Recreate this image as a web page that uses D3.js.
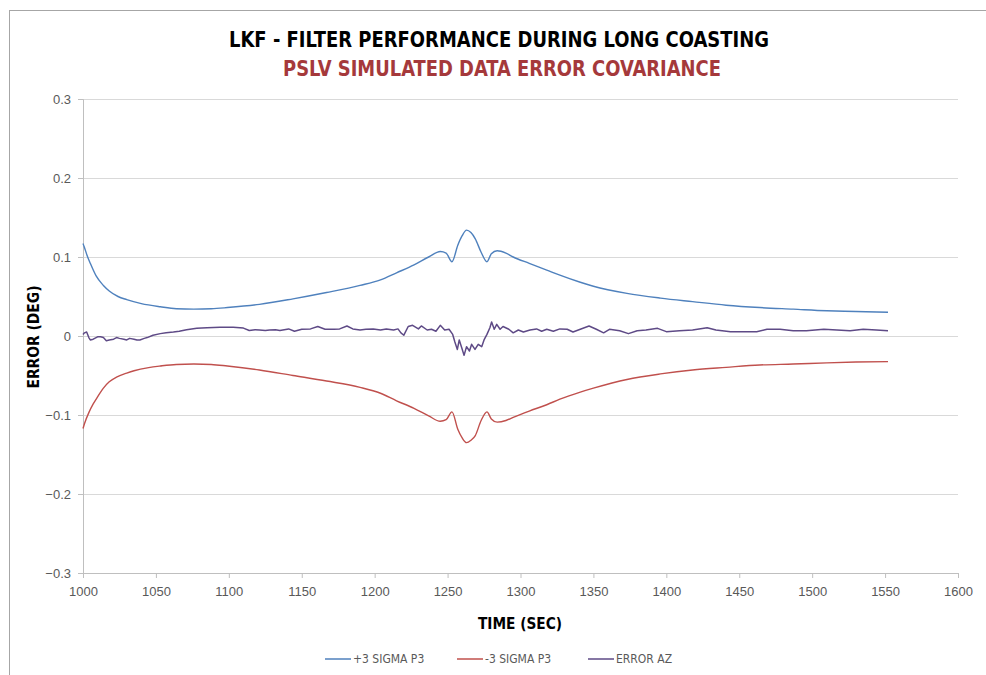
<!DOCTYPE html>
<meta charset="utf-8">
<style>
    body { margin: 0; background: #fff; }
    .grid line { stroke: #d9d9d9; stroke-width: 1px; }
    .tick-label { fill: #595959; font-size: 13px; }
    .series { fill: none; }
    .narrow { font-family: "Liberation Sans Narrow", "DejaVu Sans Condensed", "Liberation Sans", sans-serif; }
</style>
<svg width="986" height="675" font-family="'Liberation Sans', sans-serif"></svg>
<script src="https://d3js.org/d3.v7.min.js"></script>
<script>
    // chart values
    var titleText = "LKF - FILTER PERFORMANCE DURING LONG COASTING";
    var subtitleText = "PSLV SIMULATED DATA ERROR COVARIANCE";
    var xTicks = [1000, 1050, 1100, 1150, 1200, 1250, 1300, 1350, 1400, 1450, 1500, 1550, 1600];
    var yTicks = [-0.3, -0.2, -0.1, 0, 0.1, 0.2, 0.3];
    var seriesNames = ["+3 SIGMA P3", "-3 SIGMA P3", "ERROR AZ"];

    var plusTime = [1000, 1001, 1003, 1005, 1009, 1014, 1018, 1024, 1030, 1040, 1053, 1064, 1076, 1088, 1099,
        1121, 1144, 1167, 1190, 1204, 1215, 1227, 1237, 1245, 1249, 1253, 1257, 1260, 1263, 1266, 1269, 1273,
        1277, 1280, 1284, 1290, 1295, 1306, 1318, 1327, 1341, 1350, 1373, 1396, 1418, 1441, 1464, 1487, 1510, 1530, 1552];
    var plusSigma = [0.117, 0.112, 0.101, 0.092, 0.076, 0.064, 0.057, 0.050, 0.046, 0.041, 0.037, 0.0345, 0.034, 0.0345, 0.036,
        0.040, 0.047, 0.055, 0.064, 0.071, 0.080, 0.090, 0.100, 0.107, 0.105, 0.094, 0.115, 0.127, 0.134, 0.131, 0.123, 0.106,
        0.094, 0.104, 0.108, 0.105, 0.100, 0.092, 0.0835, 0.077, 0.068, 0.063, 0.054, 0.048, 0.0435, 0.039, 0.036, 0.034, 0.032, 0.031, 0.030];

    var minusTime = [1000, 1001, 1004, 1007, 1010, 1014, 1018, 1023, 1030, 1035, 1045, 1053, 1064, 1076, 1088, 1099,
        1121, 1144, 1167, 1190, 1204, 1215, 1227, 1237, 1245, 1249, 1253, 1257, 1260, 1263, 1266, 1269, 1273,
        1277, 1280, 1284, 1290, 1295, 1306, 1318, 1327, 1341, 1350, 1373, 1396, 1418, 1441, 1464, 1487, 1510, 1530, 1552];
    var minusSigma = [-0.117, -0.111, -0.097, -0.086, -0.077, -0.066, -0.058, -0.052, -0.047, -0.044, -0.040, -0.038, -0.036, -0.0355, -0.036, -0.038,
        -0.043, -0.050, -0.057, -0.065, -0.0725, -0.082, -0.0915, -0.101, -0.108, -0.106, -0.096, -0.118, -0.129, -0.135, -0.132, -0.126, -0.107,
        -0.096, -0.105, -0.109, -0.107, -0.103, -0.095, -0.087, -0.080, -0.071, -0.066, -0.055, -0.048, -0.043, -0.0397, -0.0367, -0.0355, -0.034, -0.033, -0.0325];

    var errTime = [1000, 1001, 1002.5, 1004, 1005, 1007, 1008, 1010, 1012, 1014, 1016, 1018, 1021, 1023, 1025, 1028, 1030,
        1032, 1035, 1037, 1039, 1042, 1044, 1048, 1053, 1057, 1062, 1066, 1071, 1078, 1085, 1094, 1103, 1110, 1114,
        1118, 1121, 1125, 1128, 1132, 1135, 1141, 1145, 1150, 1156, 1161, 1166, 1172, 1176, 1181, 1185, 1190, 1194,
        1199, 1204, 1208, 1213, 1216, 1218, 1220, 1223, 1226, 1230, 1232, 1236, 1239, 1242, 1245, 1248, 1251, 1253.5,
        1255, 1256.7, 1258, 1259.7, 1261.3, 1263, 1265, 1266.5, 1268.8, 1271, 1273.4, 1275, 1277, 1279, 1280.2, 1282,
        1283.7, 1286, 1288, 1292, 1295, 1298.5, 1302, 1306.5, 1311, 1314.5, 1318, 1322.5, 1327, 1332, 1336, 1341, 1347,
        1352, 1357, 1361, 1368, 1374, 1380, 1386, 1394, 1400, 1409, 1418, 1428, 1434, 1444, 1453, 1462, 1469, 1478,
        1487, 1496, 1508, 1517, 1526, 1535, 1544, 1552];
    var errAz = [0.002, 0.004, 0.005, -0.002, -0.005, -0.004, -0.003, -0.001, -0.001, -0.002, -0.006, -0.005, -0.004, -0.002, -0.003, -0.004, -0.005,
        -0.003, -0.004, -0.005, -0.005, -0.003, -0.002, 0.001, 0.003, 0.004, 0.005, 0.006, 0.008, 0.0097, 0.0105, 0.011, 0.011, 0.010, 0.007,
        0.008, 0.0076, 0.007, 0.0076, 0.008, 0.007, 0.009, 0.006, 0.0085, 0.009, 0.012, 0.0085, 0.0085, 0.009, 0.0127, 0.009, 0.0076, 0.0085,
        0.009, 0.0076, 0.009, 0.0076, 0.009, 0.004, 0.001, 0.012, 0.0135, 0.009, 0.0127, 0.0076, 0.0085, 0.006, 0.0135, 0.0076, 0.0085, 0.002,
        -0.0076, -0.017, -0.005, -0.0148, -0.0245, -0.0135, -0.019, -0.0105, -0.017, -0.0105, -0.0135, -0.005, 0.002, 0.0105, 0.0177, 0.0085,
        0.0148, 0.0085, 0.012, 0.0085, 0.004, 0.0076, 0.005, 0.0076, 0.009, 0.006, 0.0085, 0.006, 0.009, 0.0085, 0.005, 0.0085, 0.0127,
        0.0085, 0.004, 0.0085, 0.0067, 0.003, 0.0067, 0.0076, 0.0097, 0.0055, 0.0067, 0.0076, 0.0105, 0.0076, 0.0055, 0.0055, 0.0055, 0.0085, 0.0085,
        0.0067, 0.0067, 0.0085, 0.0076, 0.0067, 0.0085, 0.0076, 0.0067];

    var colors = ["#4f81bd", "#c0504d", "#5e4a86"];

    var svg = d3.select("svg"),
        margin = { top: 99, right: 28, bottom: 102, left: 83 },
        width = +svg.attr("width") - margin.left - margin.right,
        height = +svg.attr("height") - margin.top - margin.bottom;

    // outer chart frame (runs off the right and bottom of the picture)
    svg.append("rect")
        .attr("x", 9.5).attr("y", 10.5)
        .attr("width", 1000).attr("height", 700)
        .attr("fill", "#fff")
        .attr("stroke", "#a6a6a6");

    var g = svg.append("g").attr("transform", "translate(" + margin.left + "," + margin.top + ")");

    var x = d3.scaleLinear().domain([1000, 1600]).range([0, width]);
    var y = d3.scaleLinear().domain([-0.3, 0.3]).range([height, 0]);

    // horizontal grid
    g.append("g")
        .attr("class", "grid")
        .selectAll("line")
        .data(yTicks.slice(1))
        .enter().append("line")
        .attr("x1", 0).attr("x2", width)
        .attr("y1", function (d) { return Math.round(y(d)) + 0.5; })
        .attr("y2", function (d) { return Math.round(y(d)) + 0.5; });

    // y axis
    var yAxis = g.append("g")
        .call(d3.axisLeft(y).tickValues(yTicks).tickSize(5).tickPadding(7)
            .tickFormat(function (d) { return d === 0 ? "0" : d3.format(".1f")(d); }));
    yAxis.select(".domain").attr("stroke", "#bfbfbf");
    yAxis.selectAll(".tick line").attr("stroke", "#bfbfbf");
    yAxis.selectAll(".tick text").attr("class", "tick-label");

    // x axis
    var xAxis = g.append("g")
        .attr("transform", "translate(0," + height + ")")
        .call(d3.axisBottom(x).tickValues(xTicks).tickSize(5).tickPadding(9).tickFormat(d3.format("d")));
    xAxis.select(".domain").attr("stroke", "#bfbfbf");
    xAxis.selectAll(".tick line").attr("stroke", "#bfbfbf");
    xAxis.selectAll(".tick text").attr("class", "tick-label");

    // series
    var sigmaLine = d3.line()
        .x(function (d) { return x(d[0]); })
        .y(function (d) { return y(d[1]); })
        .curve(d3.curveMonotoneX);

    var errLine = d3.line()
        .x(function (d) { return x(d[0]); })
        .y(function (d) { return y(d[1]); });

    g.append("path")
        .attr("class", "series")
        .attr("stroke", colors[0])
        .attr("stroke-width", 1.4)
        .attr("d", sigmaLine(d3.zip(plusTime, plusSigma)));

    g.append("path")
        .attr("class", "series")
        .attr("stroke", colors[1])
        .attr("stroke-width", 1.4)
        .attr("d", sigmaLine(d3.zip(minusTime, minusSigma)));

    g.append("path")
        .attr("class", "series")
        .attr("stroke", colors[2])
        .attr("stroke-width", 1.5)
        .attr("stroke-linejoin", "round")
        .attr("d", errLine(d3.zip(errTime, errAz)));

    // titles
    svg.append("text")
        .attr("class", "narrow")
        .attr("x", 499).attr("y", 47)
        .attr("text-anchor", "middle")
        .attr("font-size", 22).attr("font-weight", "bold")
        .attr("fill", "#000")
        .attr("textLength", 540).attr("lengthAdjust", "spacingAndGlyphs")
        .text(titleText);

    svg.append("text")
        .attr("class", "narrow")
        .attr("x", 502).attr("y", 76)
        .attr("text-anchor", "middle")
        .attr("font-size", 22).attr("font-weight", "bold")
        .attr("fill", "#a5393b")
        .attr("textLength", 438).attr("lengthAdjust", "spacingAndGlyphs")
        .text(subtitleText);

    svg.append("text")
        .attr("class", "narrow")
        .attr("x", 520).attr("y", 629)
        .attr("text-anchor", "middle")
        .attr("font-size", 16).attr("font-weight", "bold")
        .attr("textLength", 84).attr("lengthAdjust", "spacingAndGlyphs")
        .text("TIME (SEC)");

    svg.append("text")
        .attr("class", "narrow")
        .attr("transform", "translate(39," + 337 + ")rotate(-90)")
        .attr("text-anchor", "middle")
        .attr("font-size", 16).attr("font-weight", "bold")
        .attr("textLength", 103).attr("lengthAdjust", "spacingAndGlyphs")
        .text("ERROR (DEG)");

    // legend
    var legendX = [325, 457, 588];
    var legend = svg.append("g")
        .selectAll("g")
        .data(seriesNames)
        .enter().append("g")
        .attr("transform", function (d, i) { return "translate(" + legendX[i] + ",659)"; });

    legend.append("line")
        .attr("x2", 26)
        .attr("stroke", function (d, i) { return colors[i]; })
        .attr("stroke-width", 1.5);

    legend.append("text")
        .attr("class", "narrow")
        .attr("x", 28)
        .attr("dy", "0.35em")
        .attr("font-size", 12)
        .attr("fill", "#595959")
        .text(function (d) { return d; });
</script>
